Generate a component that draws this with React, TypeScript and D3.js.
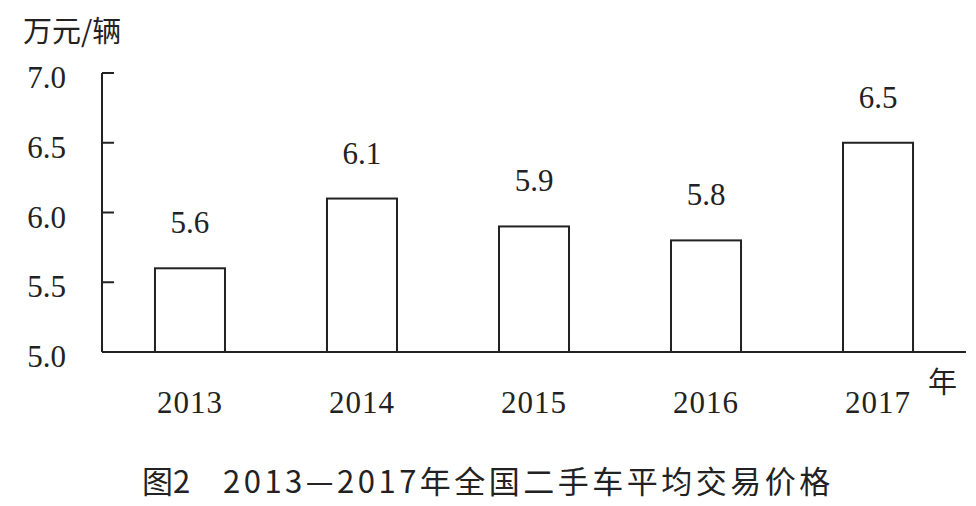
import React from "react";
import * as d3 from "d3";

const years = ["2013", "2014", "2015", "2016", "2017"];
const prices = [5.6, 6.1, 5.9, 5.8, 6.5];
const yTicks = [5.0, 5.5, 6.0, 6.5, 7.0];
const yUnit = "万元/辆";
const xUnit = "年";
const figNo = "图2";
const title = "2013—2017年全国二手车平均交易价格";

const W = 976;
const H = 506;
const axisX = 102;
const axisRight = 966;
const yTop = 73;
const yBottom = 352;
const ink = "#222";
const serif = "'Liberation Serif', 'Times New Roman', serif";
const cjk = "'Noto Sans CJK SC', 'Noto Sans', sans-serif";

export default function App() {
  const y = d3.scaleLinear().domain([5, 7]).range([yBottom, yTop]);
  const x = d3
    .scaleBand<string>()
    .domain(years)
    .range([axisX, axisRight])
    .paddingInner(0.593)
    .paddingOuter(0.308);
  const bw = x.bandwidth();

  return (
    <svg
      width={W}
      height={H}
      viewBox={`0 0 ${W} ${H}`}
      style={{ position: "fixed", left: 0, top: 0, background: "#fff", display: "block" }}
    >
      <rect x={0} y={0} width={W} height={H} fill="#fff" />
      {/* unit label */}
      <text x={23} y={42} fontFamily={cjk} fontSize={29} fill={ink}>
        {yUnit}
      </text>
      {/* y axis */}
      <line x1={axisX} x2={axisX} y1={y(7)} y2={y(5)} stroke={ink} strokeWidth={2} />
      {yTicks.map((t) => (
        <g key={t}>
          {t > 5 && (
            <line x1={axisX} x2={axisX + 12} y1={y(t)} y2={y(t)} stroke={ink} strokeWidth={2} />
          )}
          <text
            x={66}
            y={y(t) + 15}
            textAnchor="end"
            fontFamily={serif}
            fontSize={31}
            fill={ink}
          >
            {t.toFixed(1)}
          </text>
        </g>
      ))}
      {/* bars */}
      {years.map((yr, i) => {
        const x0 = x(yr) as number;
        const top = y(prices[i]);
        return (
          <g key={yr}>
            <rect
              x={x0}
              y={top}
              width={bw}
              height={y(5) - top}
              fill="#fff"
              stroke={ink}
              strokeWidth={2}
            />
            <text
              x={x0 + bw / 2}
              y={top - 35}
              textAnchor="middle"
              fontFamily={serif}
              fontSize={31}
              fill={ink}
            >
              {prices[i].toFixed(1)}
            </text>
            <text
              x={x0 + bw / 2}
              y={413}
              textAnchor="middle"
              fontFamily={serif}
              fontSize={31}
              fill={ink}
              letterSpacing={1}
            >
              {yr}
            </text>
          </g>
        );
      })}
      {/* x axis */}
      <line x1={axisX} x2={axisRight} y1={y(5)} y2={y(5)} stroke={ink} strokeWidth={2} />
      <text x={928} y={393} fontFamily={cjk} fontSize={29} fill={ink}>
        {xUnit}
      </text>
      {/* caption */}
      <text x={142} y={493} fontFamily={cjk} fontSize={31} fill={ink}>
        {figNo}
      </text>
      <text
        x={223}
        y={493}
        fontFamily={cjk}
        fontSize={31}
        fill={ink}
        letterSpacing={3.5}
      >
        {title}
      </text>
    </svg>
  );
}
